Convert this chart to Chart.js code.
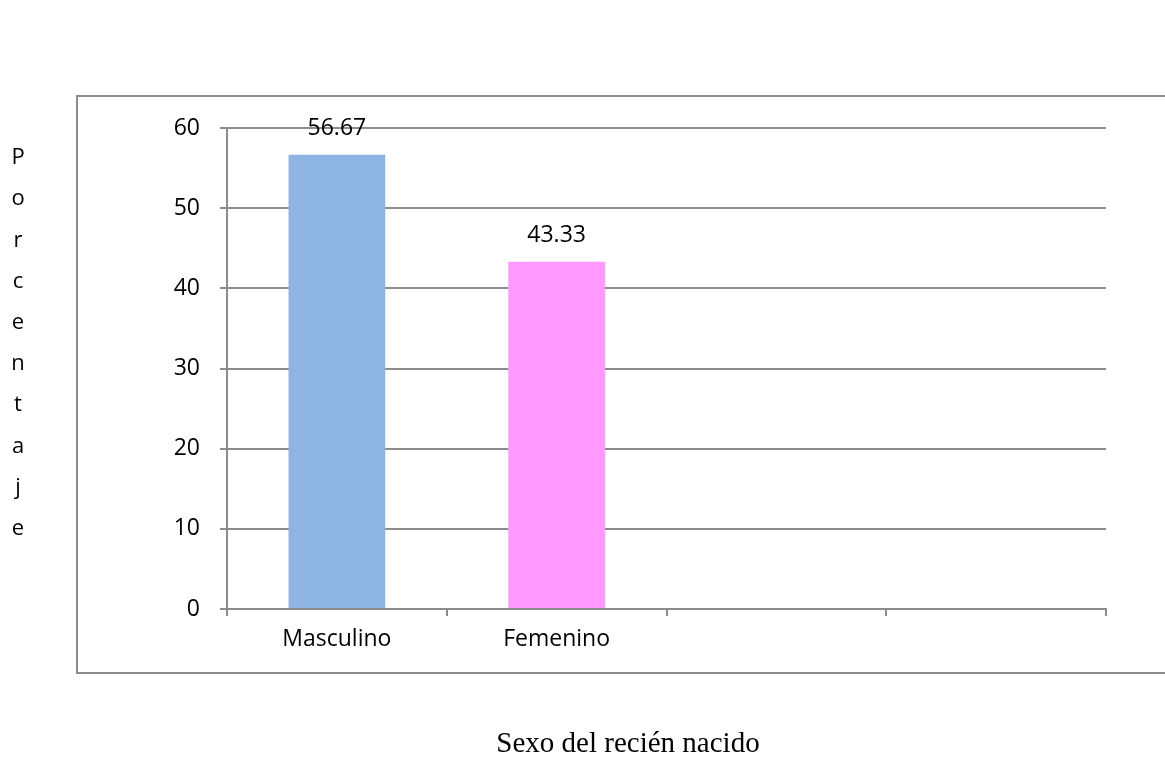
<!DOCTYPE html>
<html>
  <head>
    <script src="https://cdn.jsdelivr.net/npm/chart.js@4.4.0/dist/chart.umd.min.js"></script>
    <style>
      html, body { margin: 0; padding: 0; background: #fff; }
      .chart-container { position: relative; width: 1165px; height: 761px; }
    </style>
  </head>
  <body>
    <div class="chart-container">
      <canvas id="myChart"></canvas>
    </div>
    <script>
      // data
      var categories = ["Masculino", "Femenino", "", ""];
      var percentages = [56.67, 43.33, null, null];
      var barColors = ["#8EB4E3", "#FF99FF", "#8EB4E3", "#8EB4E3"];
      var yTicks = [0, 10, 20, 30, 40, 50, 60];
      var yTitle = "Porcentaje";
      var xTitle = "Sexo del recién nacido";

      var font = "'Open Sans', 'Noto Sans', sans-serif";

      // border box, vertical letters, title and value labels
      var decorations = {
        id: "decorations",
        beforeDraw: function (chart) {
          var ctx = chart.ctx;
          ctx.save();
          ctx.strokeStyle = "#8c8c8c";
          ctx.lineWidth = 2;
          ctx.strokeRect(77, 96, 1100, 577);
          ctx.restore();
        },
        afterDraw: function (chart) {
          var ctx = chart.ctx;
          ctx.save();
          ctx.fillStyle = "#000";
          ctx.textAlign = "center";
          ctx.textBaseline = "middle";
          ctx.font = "22px " + font;
          var letters = yTitle.split("");
          for (var i = 0; i < letters.length; i++) {
            ctx.fillText(letters[i], 18, 158 + i * 41.2);
          }
          ctx.font = "29px 'Liberation Serif', 'DejaVu Serif', serif";
          ctx.fillText(xTitle, 628, 744);

          // value labels above bars
          ctx.font = "23px " + font;
          var meta = chart.getDatasetMeta(0);
          meta.data.forEach(function (bar, idx) {
            var v = percentages[idx];
            if (v === null) return;
            ctx.fillText(v.toFixed(2), bar.x, bar.y - 26);
          });
          ctx.restore();
        },
      };

      var ctx = document.getElementById("myChart").getContext("2d");
      var chart = new Chart(ctx, {
        type: "bar",
        data: {
          labels: categories,
          datasets: [
            {
              data: percentages,
              backgroundColor: barColors,
              borderWidth: 0,
              categoryPercentage: 0.44,
              barPercentage: 1.0,
            },
          ],
        },
        options: {
          responsive: true,
          maintainAspectRatio: false,
          animation: false,
          layout: {
            padding: { left: 150, top: 128, right: 59, bottom: 92 },
          },
          plugins: {
            legend: { display: false },
            tooltip: { enabled: false },
          },
          scales: {
            x: {
              afterFit: function (s) { s.height = 60; },
              border: { color: "#8c8c8c", width: 2 },
              grid: {
                offset: true,
                drawOnChartArea: false,
                color: "#8c8c8c",
                lineWidth: 2,
                tickLength: 7,
              },
              ticks: {
                color: "#000",
                font: { family: font, size: 23 },
                padding: 10,
              },
            },
            y: {
              min: 0,
              max: 60,
              afterFit: function (s) { s.width = 77; },
              afterBuildTicks: function (s) {
                s.ticks = yTicks.map(function (v) { return { value: v }; });
              },
              border: { color: "#8c8c8c", width: 2 },
              grid: {
                color: "#8c8c8c",
                lineWidth: 2,
                tickLength: 7,
              },
              ticks: {
                color: "#000",
                font: { family: font, size: 23 },
                padding: 20,
              },
            },
          },
        },
        plugins: [decorations],
      });
    </script>
  </body>
</html>
